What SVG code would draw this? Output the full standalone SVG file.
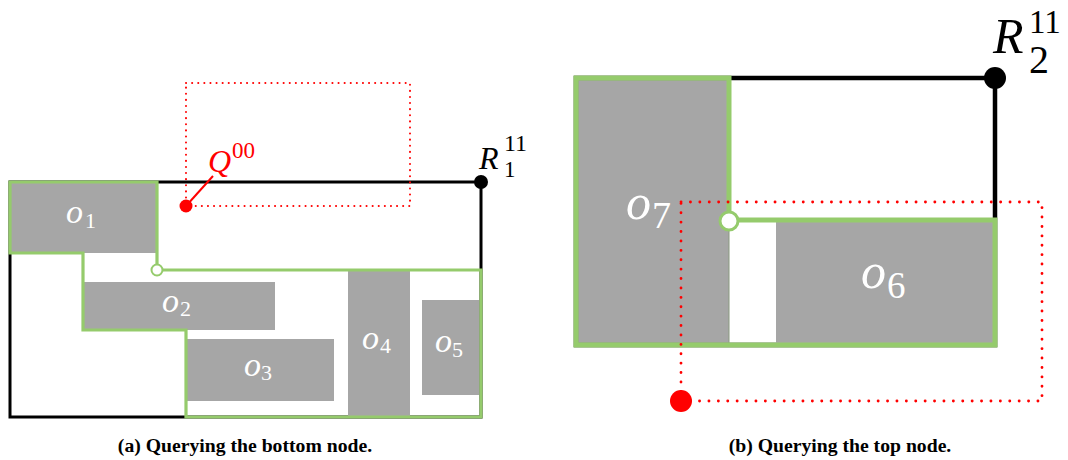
<svg xmlns="http://www.w3.org/2000/svg" width="1068" height="460" viewBox="0 0 1068 460">
  <style>
    .obj { fill: #a6a6a6; }
    .bound { fill: none; stroke: #000; stroke-linejoin: miter; }
    .mbr { fill: none; stroke: #95cb6c; stroke-linejoin: miter; }
    .query { fill: none; stroke: #ff0000; stroke-linecap: round; }
    .lbl { font-family: "Liberation Serif", "DejaVu Serif", serif; fill: #fff; }
    .it { font-style: italic; }
    .math { font-family: "Liberation Serif", "DejaVu Serif", serif; fill: #000; }
    .cap { font-family: "Liberation Serif", "DejaVu Serif", serif; font-weight: bold; font-size: 19.7px; fill: #000; text-anchor: middle; }
  </style>

  <!-- (a) bottom node -->
  <g id="panel-a">
    <g id="node-R1">
      <rect class="bound" x="10" y="182" width="471" height="235" stroke-width="3"/>
    </g>
    <g id="objects-a">
      <rect class="obj" x="11" y="183" width="146" height="70"/>
      <rect class="obj" x="83" y="282" width="192" height="48"/>
      <rect class="obj" x="186" y="339" width="148" height="62"/>
      <rect class="obj" x="348" y="271" width="62" height="146"/>
      <rect class="obj" x="422" y="300" width="57" height="95"/>
    </g>
    <g id="mbr-a">
      <path class="mbr" stroke-width="3.2" d="M10,182 H157 V270 H481 V417 H186 V330 H83 V253 H10 Z"/>
      <circle cx="157" cy="270" r="5.5" fill="#fff" stroke="#95cb6c" stroke-width="2"/>
    </g>
    <g id="labels-a">
      <text class="lbl it" x="66" y="223" font-size="34">o</text><text class="lbl" x="85" y="228" font-size="22">1</text>
      <text class="lbl it" x="162" y="312" font-size="34">o</text><text class="lbl" x="180" y="316" font-size="22">2</text>
      <text class="lbl it" x="244" y="376" font-size="34">o</text><text class="lbl" x="261" y="380" font-size="22">3</text>
      <text class="lbl it" x="362" y="349" font-size="34">o</text><text class="lbl" x="380" y="353" font-size="22">4</text>
      <text class="lbl it" x="435" y="352" font-size="34">o</text><text class="lbl" x="452" y="357" font-size="22">5</text>
    </g>
    <g id="query-a">
      <rect class="query" x="186" y="83" width="224" height="123" stroke-width="2" stroke-dasharray="0.1 6"/>
      <line x1="186" y1="206" x2="213" y2="176" stroke="#ff0000" stroke-width="2"/>
      <circle cx="186" cy="206" r="6.5" fill="#ff0000"/>
      <text x="208" y="172" font-family="Liberation Serif, serif" font-style="italic" font-size="32" fill="#ff0000">Q</text>
      <text x="232" y="158" font-family="Liberation Serif, serif" font-size="23" fill="#ff0000">00</text>
    </g>
    <g id="corner-R1">
      <circle cx="481" cy="182" r="7" fill="#000"/>
      <text class="math it" x="479" y="169" font-size="32">R</text>
      <text class="math" x="504" y="151" font-size="24">11</text>
      <text class="math" x="504" y="177" font-size="23">1</text>
    </g>
    <text class="cap" x="245" y="452">(a) Querying the bottom node.</text>
  </g>

  <!-- (b) top node -->
  <g id="panel-b">
    <g id="node-R2">
      <rect class="bound" x="576" y="78" width="419" height="267" stroke-width="4.5"/>
    </g>
    <g id="objects-b">
      <rect class="obj" x="578" y="80" width="151" height="263" stroke="#8a9a80" stroke-width="1"/>
      <rect class="obj" x="776" y="222" width="219" height="121"/>
    </g>
    <g id="mbr-b">
      <path class="mbr" stroke-width="5" d="M576,78 H729 V220 H995 V345 H576 Z"/>
    </g>
    <g id="labels-b">
      <text class="lbl it" x="626" y="219" font-size="50">o</text><text class="lbl" x="652" y="228" font-size="38">7</text>
      <text class="lbl it" x="861" y="288" font-size="50">o</text><text class="lbl" x="887" y="298" font-size="37">6</text>
    </g>
    <g id="query-b">
      <rect class="query" x="681" y="202" width="361" height="199" stroke-width="2.8" stroke-dasharray="0.1 9.3"/>
      <circle cx="681" cy="401" r="11" fill="#ff0000"/>
    </g>
    <circle cx="729" cy="221" r="9" fill="#fff" stroke="#95cb6c" stroke-width="3"/>
    <g id="corner-R2">
      <circle cx="995" cy="78" r="11" fill="#000"/>
      <text class="math it" x="993" y="53" font-size="50">R</text>
      <text class="math" x="1029" y="33" font-size="33">11</text>
      <text class="math" x="1029" y="73" font-size="40">2</text>
    </g>
    <text class="cap" x="840" y="452">(b) Querying the top node.</text>
  </g>
</svg>
